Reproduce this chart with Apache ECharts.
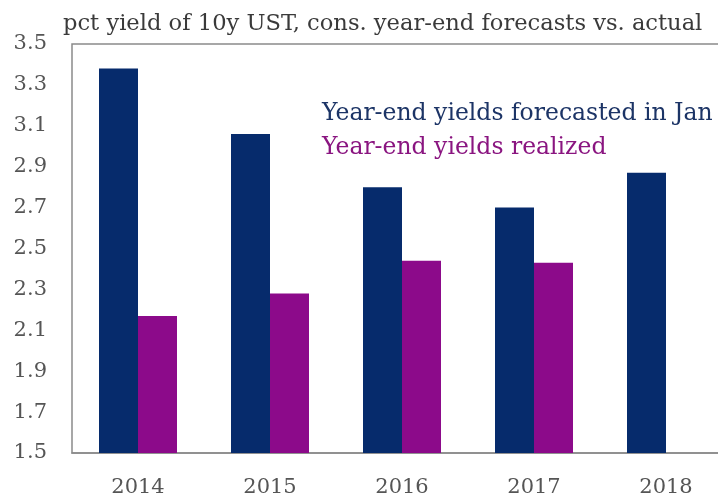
<!DOCTYPE html>
<html>
<head>
<meta charset="utf-8">
<script src="https://cdn.jsdelivr.net/npm/echarts@6/dist/echarts.min.js"></script>
<style>html,body{margin:0;padding:0;background:#fff}#c{width:718px;height:502px}</style>
</head>
<body>
<div id="c"></div>
<script>
const years = ['2014', '2015', '2016', '2017', '2018'];
const forecast = [3.38, 3.06, 2.80, 2.70, 2.87];
const realized = [2.17, 2.28, 2.44, 2.43, null];
const yTicks = [1.5, 1.7, 1.9, 2.1, 2.3, 2.5, 2.7, 2.9, 3.1, 3.3, 3.5];

const FONT = 'DejaVu Serif';
const chart = echarts.init(document.getElementById('c'));
chart.setOption({
  animation: false,
  backgroundColor: '#fff',
  title: {
    text: 'pct yield of 10y UST, cons. year-end forecasts vs. actual',
    left: 58, top: 8,
    textStyle: { fontFamily: FONT, fontSize: 22.6, fontWeight: 'normal', color: '#3a3a3a' }
  },
  legend: {
    orient: 'vertical', left: 312, top: 96, icon: 'none', itemGap: 8, itemWidth: 0,
    data: [
      { name: 'Year-end yields forecasted in Jan', textStyle: { color: '#1c3466' } },
      { name: 'Year-end yields realized', textStyle: { color: '#8a1580' } }
    ],
    textStyle: { fontFamily: FONT, fontSize: 23.5, lineHeight: 26 }
  },
  grid: { left: 72, top: 44, width: 660, bottom: 49, show: true, borderColor: '#8a8a8a', borderWidth: 1.5, outerBoundsMode: 'none', containLabel: false },
  xAxis: {
    type: 'category', data: years,
    axisTick: { show: false },
    axisLine: { lineStyle: { color: '#8a8a8a', width: 1.5 } },
    axisLabel: { margin: 24, fontFamily: FONT, fontSize: 21, color: '#555' }
  },
  yAxis: {
    type: 'value', min: 1.5, max: 3.5, interval: 0.2,
    splitLine: { show: false },
    axisLine: { show: false }, axisTick: { show: false },
    axisLabel: { margin: 25, fontFamily: FONT, fontSize: 21, color: '#555', formatter: v => v.toFixed(1) }
  },
  series: [
    { name: 'Year-end yields forecasted in Jan', type: 'bar', data: forecast, barWidth: 39, barGap: '0%', itemStyle: { color: '#062b6c' } },
    { name: 'Year-end yields realized', type: 'bar', data: realized, barWidth: 39, itemStyle: { color: '#8c0a8a' } }
  ]
});
</script>
</body>
</html>
